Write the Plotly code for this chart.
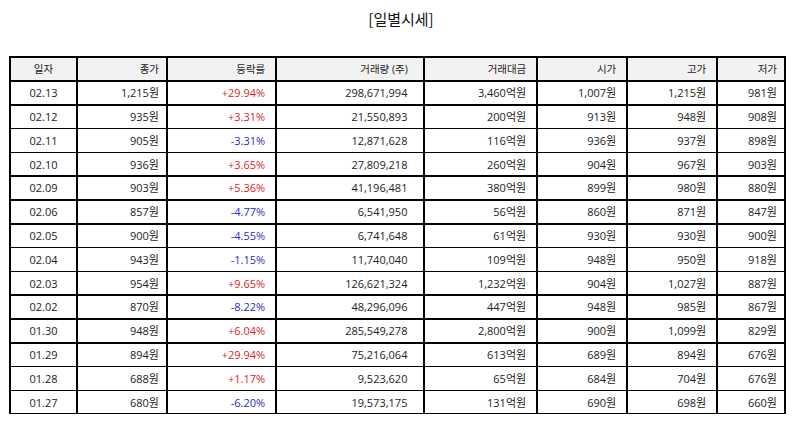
import plotly.graph_objects as go

# Daily price data
dates = ['02.13', '02.12', '02.11', '02.10', '02.09', '02.06', '02.05',
         '02.04', '02.03', '02.02', '01.30', '01.29', '01.28', '01.27']
close = [1215, 935, 905, 936, 903, 857, 900, 943, 954, 870, 948, 894, 688, 680]
change = [29.94, 3.31, -3.31, 3.65, 5.36, -4.77, -4.55, -1.15, 9.65, -8.22,
          6.04, 29.94, 1.17, -6.20]
volume = [298671994, 21550893, 12871628, 27809218, 41196481, 6541950, 6741648,
          11740040, 126621324, 48296096, 285549278, 75216064, 9523620, 19573175]
amount = [3460, 200, 116, 260, 380, 56, 61, 109, 1232, 447, 2800, 613, 65, 131]
open_ = [1007, 913, 936, 904, 899, 860, 930, 948, 904, 948, 900, 689, 684, 690]
high = [1215, 948, 937, 967, 980, 871, 930, 950, 1027, 985, 1099, 894, 704, 698]
low = [981, 908, 898, 903, 880, 847, 900, 918, 887, 867, 829, 676, 676, 660]

headers = ['일자', '종가', '등락률', '거래량 (주)', '거래대금', '시가', '고가', '저가']
col_widths = [67, 90, 109, 148, 113, 90, 90, 68]
# extra right padding (non-breaking spaces) so wide columns sit like the original
pad_n = [0, 0, 1, 3, 1, 1, 1, 0]

won = lambda v: [f'{x:,}원' for x in v]
columns = [
    dates,
    won(close),
    [f'{x:+.2f}%' for x in change],
    [f'{x:,}' for x in volume],
    [f'{x:,}억원' for x in amount],
    won(open_),
    won(high),
    won(low),
]
columns = [[s + '\u00a0' * n for s in col] for col, n in zip(columns, pad_n)]
header_vals = [h + '\u00a0' * n for h, n in zip(headers, pad_n)]

red, blue = '#e02424', '#2a2ac8'
chg_colors = [red if x > 0 else blue for x in change]
font_colors = [['#222222'] * len(dates)] * 2 + [chg_colors] + [['#222222'] * len(dates)] * 5

FONT = 'Open Sans, Noto Sans CJK KR'

fig = go.Figure(go.Table(
    columnwidth=col_widths,
    header=dict(
        values=header_vals,
        fill_color='#f2f2f2',
        line=dict(color='black', width=1.5),
        align=['center'] + ['right'] * 7,
        font=dict(family=FONT, size=10.5, color='#222222'),
        height=24,
    ),
    cells=dict(
        values=columns,
        fill_color='white',
        line=dict(color='black', width=1.5),
        align=['center'] + ['right'] * 7,
        font=dict(family=FONT, size=11, color=font_colors),
        height=23.8,
    ),
))

# page body has an 8px margin, so the figure is shrunk by that much
fig.update_layout(
    title=dict(text='[일별시세]', x=0.5, xanchor='center', y=0.972, yanchor='middle',
               font=dict(family='Noto Sans CJK KR', size=15, color='#111111')),
    width=786, height=417,
    margin=dict(l=2, r=9, t=49, b=11),
    paper_bgcolor='white',
)

fig.write_html("out.html")
